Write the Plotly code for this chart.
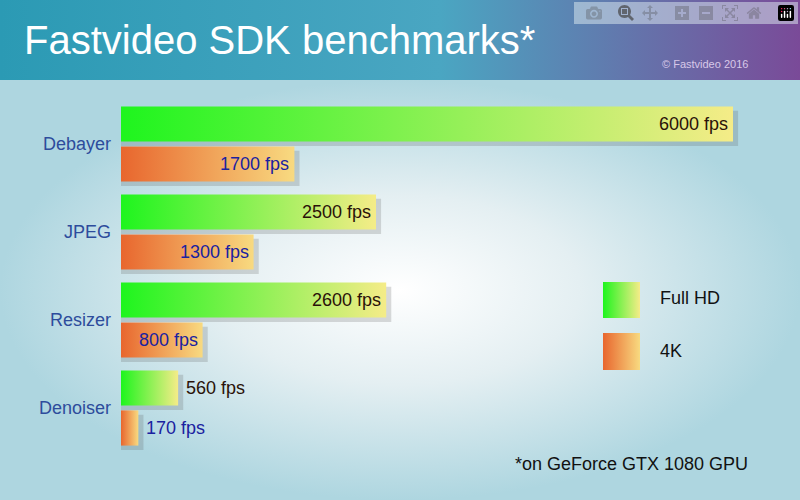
import plotly.graph_objects as go

categories = ["Debayer", "JPEG", "Resizer", "Denoiser"]
full_hd = [6000, 2500, 2600, 560]
k4 = [1700, 1300, 800, 170]
series_names = ["Full HD", "4K"]
title = "Fastvideo SDK benchmarks*"
footnote = "*on GeForce GTX 1080 GPU"
copyright_txt = "© Fastvideo 2016"

HD_SCALE = [[0, "#1ef51e"], [1, "#f5ec88"]]
K4_SCALE = [[0, "#e8662e"], [1, "#f8da80"]]
FONT = "Liberation Sans Narrow, Arial Narrow, Liberation Sans, Arial"

fig = go.Figure()

def rect(x0, x1, y0, y1, scale, kind, xa, ya):
    fig.add_trace(go.Scatter(
        x=[x0, x1, x1, x0, x0], y=[y0, y0, y1, y1, y0], mode="lines",
        fill="toself", fillgradient=dict(type=kind, colorscale=scale),
        line=dict(width=0), xaxis=xa, yaxis=ya, hoverinfo="skip", showlegend=False))

rect(0, 800, 80, 500, [[0, "#ffffff"], [0.45, "#e4eff2"], [1, "#aed6e0"]], "radial", "x", "y")
rect(0, 800, 0, 80, [[0, "#2b9ab4"], [0.55, "#4aa6c2"], [1, "#7a4a98"]], "horizontal", "x", "y")
rect(603, 640, 282, 318, HD_SCALE, "horizontal", "x", "y")
rect(603, 640, 333, 370, K4_SCALE, "horizontal", "x", "y")

off, half = 0.227, 0.2
for i, (a, b) in enumerate(zip(full_hd, k4)):
    for val, c, sc in ((a, i - off, HD_SCALE), (b, i + off, K4_SCALE)):
        s0, s1 = c - half + 0.05, c + half + 0.05
        fig.add_trace(go.Scatter(x=[0, val + 50, val + 50, 0, 0], y=[s0, s0, s1, s1, s0],
                                 mode="lines", fill="toself", fillcolor="rgba(90,90,90,0.22)", line=dict(width=0),
                                 xaxis="x2", yaxis="y2", hoverinfo="skip", showlegend=False))
        rect(0, val, c - half, c + half, sc, "horizontal", "x2", "y2")

px = 0.102
fig.update_layout(
    width=800, height=500, margin=dict(l=0, r=0, t=0, b=0),
    paper_bgcolor="#dfeef2", plot_bgcolor="rgba(0,0,0,0)", showlegend=False,
    xaxis=dict(range=[0, 800], visible=False),
    yaxis=dict(range=[500, 0], visible=False),
    xaxis2=dict(range=[-121 / px, (800 - 121) / px], visible=False, overlaying="x"),
    yaxis2=dict(range=[(500 - 144) / 88, -144 / 88], visible=False, overlaying="y"),
)

ann = []
for i, (a, b) in enumerate(zip(full_hd, k4)):
    ann.append(dict(x=-80, y=i, xref="x2", yref="y2", text=categories[i], showarrow=False,
                    xanchor="right", font=dict(family=FONT, size=18, color="#2d4c9c")))
    ha = "right" if a > 1000 else "left"
    xa = a - 30 if a > 1000 else a + 60
    ann.append(dict(x=xa, y=i - off, xref="x2", yref="y2", text=f"{a} fps", showarrow=False,
                    xanchor=ha, font=dict(family=FONT, size=18, color="#2a1208")))
    hb = "right" if b > 700 else "left"
    xb = b - 30 if b > 700 else b + 60
    ann.append(dict(x=xb, y=i + off, xref="x2", yref="y2", text=f"{b} fps", showarrow=False,
                    xanchor=hb, font=dict(family=FONT, size=18, color="#1a22a0")))
ann += [
    dict(x=22, y=40, xref="x", yref="y", text=title, showarrow=False, xanchor="left",
         font=dict(family="Liberation Sans, Arial", size=40, color="white")),
    dict(x=750, y=64, xref="x", yref="y", text=copyright_txt, showarrow=False, xanchor="right",
         font=dict(family="Liberation Sans, Arial", size=11, color="#d8c8e8")),
    dict(x=658, y=298, xref="x", yref="y", text=series_names[0], showarrow=False, xanchor="left",
         font=dict(family="Liberation Sans, Arial", size=18, color="#111")),
    dict(x=658, y=351, xref="x", yref="y", text=series_names[1], showarrow=False, xanchor="left",
         font=dict(family="Liberation Sans, Arial", size=18, color="#111")),
    dict(x=750, y=464, xref="x", yref="y", text=footnote, showarrow=False, xanchor="right",
         font=dict(family="Liberation Sans, Arial", size=18, color="#111")),
]
fig.update_layout(annotations=ann)
fig.write_html("out.html", post_script="document.body.style.margin='0';document.body.style.overflow='hidden';")
